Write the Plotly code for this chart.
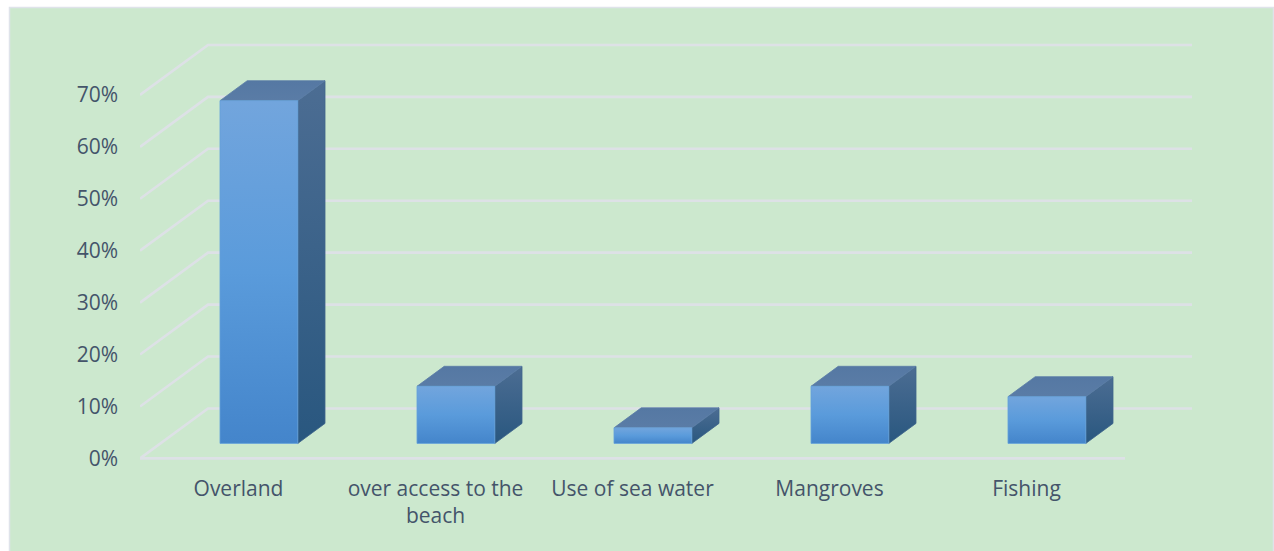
import plotly.graph_objects as go

categories = ["Overland", "over access to the<br>beach", "Use of sea water", "Mangroves", "Fishing"]
values = [66, 11, 3, 11, 9]
y_ticks = [0, 10, 20, 30, 40, 50, 60, 70]
y_tick_labels = ["0%", "10%", "20%", "30%", "40%", "50%", "60%", "70%"]

W, H = 1274, 551
L, R, T, B = 140, 1192, 42.5, 458
CAT_PX = 197.0
UNIT_PX = (B - T) / 80.0
Y_MIN = -3.0               # a little room below the floor so the front edge is not clipped
DEPTH_X = 68 / CAT_PX      # floor depth in category units
DEPTH_Y = 50 / UNIT_PX     # floor depth in value units
BAR_W = 0.395
D0, D1 = 0.3, 0.7          # bar depth span on the floor

TEXT = "#44546A"
GRID = "#DDE1E6"
BG = "#CCE8CE"
FONT = "Open Sans"
BOTTOM = B - Y_MIN * UNIT_PX


def proj(x, v, d):
    return x + DEPTH_X * d, v + DEPTH_Y * d


fig = go.Figure()

# floor + wall gridlines
gx, gy = [], []
for t in y_ticks:
    x0, y0 = proj(-0.5, t, 0)
    x1, y1 = proj(-0.5, t, 1)
    x2, y2 = proj(4.5, t, 1)
    gx += [x0, x1, x2, None]
    gy += [y0, y1, y2, None]
fx0, fy0 = proj(-0.5, 0, 0)
fx1, fy1 = proj(4.5, 0, 0)
gx += [fx0, fx1]
gy += [fy0, fy1]
fig.add_trace(go.Scatter(x=gx, y=gy, mode="lines", line=dict(color=GRID, width=2.6),
                         hoverinfo="skip", showlegend=False, cliponaxis=False))


def face(pts, stops, edge):
    xs = [p[0] for p in pts] + [pts[0][0]]
    ys = [p[1] for p in pts] + [pts[0][1]]
    fig.add_trace(go.Scatter(
        x=xs, y=ys, mode="lines", fill="toself",
        fillgradient=dict(type="vertical", colorscale=stops),
        line=dict(color=edge, width=0.8), hoverinfo="skip",
        showlegend=False, cliponaxis=False))


for i, v in enumerate(values):
    xl, xr = i - BAR_W / 2, i + BAR_W / 2
    # side face
    face([proj(xr, 0, D0), proj(xr, 0, D1), proj(xr, v, D1), proj(xr, v, D0)],
         [[0, "#29577F"], [1, "#4C6D93"]], "#3F648C")
    # top face
    face([proj(xl, v, D0), proj(xr, v, D0), proj(xr, v, D1), proj(xl, v, D1)],
         [[0, "#5A7CA6"], [1, "#5578A3"]], "#5A7CA6")
    # front face
    face([proj(xl, 0, D0), proj(xr, 0, D0), proj(xr, v, D0), proj(xl, v, D0)],
         [[0, "#4485CB"], [0.5, "#5A9BDB"], [1, "#72A5DD"]], "#66A2DA")

fig.update_layout(
    width=W, height=H,
    margin=dict(l=L, r=W - R, t=T, b=H - BOTTOM, pad=0, autoexpand=False),
    paper_bgcolor="white", plot_bgcolor="rgba(0,0,0,0)",
    font=dict(family=FONT, color=TEXT, size=21),
    showlegend=False,
    xaxis=dict(range=[-0.5, -0.5 + (R - L) / CAT_PX], tickmode="array",
               tickvals=list(range(len(categories))), ticktext=categories,
               showgrid=False, zeroline=False, showline=False, ticks="",
               ticklabelstandoff=0, tickangle=0,
               tickfont=dict(family=FONT, color=TEXT, size=21)),
    yaxis=dict(range=[Y_MIN, 80], tickmode="array", tickvals=y_ticks, ticktext=y_tick_labels,
               showgrid=False, zeroline=False, showline=False, ticks="",
               ticklabelstandoff=21,
               tickfont=dict(family=FONT, color=TEXT, size=21)),
    shapes=[dict(type="rect", layer="below", xref="paper", yref="paper",
                 x0=(9.5 - L) / (R - L), x1=(1273.5 - L) / (R - L),
                 y0=(BOTTOM - 552) / (BOTTOM - T), y1=(BOTTOM - 7) / (BOTTOM - T),
                 fillcolor=BG, line=dict(color="#DFE3EA", width=1.5))],
)

fig.write_html("out.html", config=dict(displayModeBar=False),
               post_script="document.body.style.margin='0';document.body.style.overflow='hidden';")
